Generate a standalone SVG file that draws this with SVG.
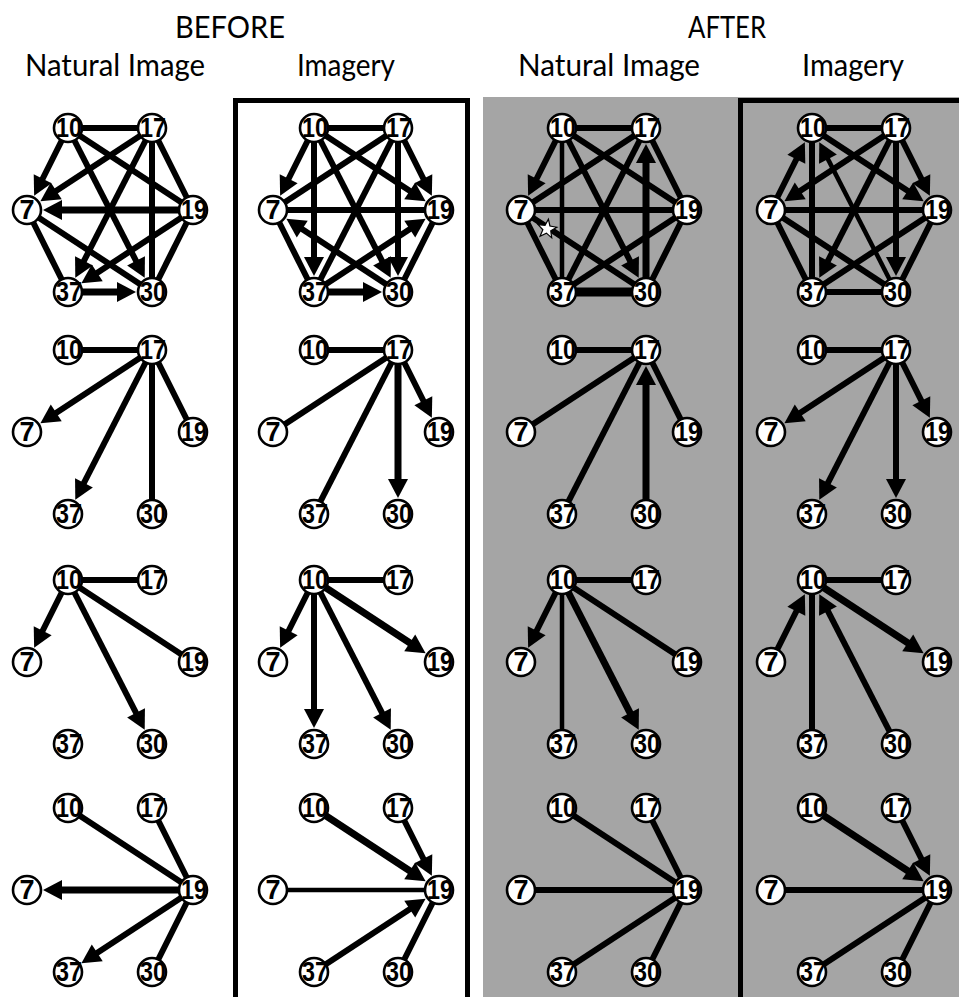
<svg xmlns="http://www.w3.org/2000/svg" width="959" height="997" viewBox="0 0 959 997">
<style>
.hd{font-family:Lato,"Open Sans","Liberation Sans",sans-serif;font-size:31px;fill:#000;text-anchor:middle}
.nc{fill:#fff;stroke:#000;stroke-width:2.6}
.nt{font-family:"Liberation Sans",Arial,sans-serif;font-size:27px;font-weight:bold;fill:#000;text-anchor:middle}
.e{stroke:#000;stroke-width:6;fill:none;stroke-linecap:butt}
.a{stroke:#000;stroke-width:6;fill:none;marker-end:url(#ah)}
.th{stroke-width:9}
.md{stroke-width:7}
.tn{stroke-width:4.5}
</style>
<defs>
<marker id="ah" markerUnits="userSpaceOnUse" markerWidth="19" markerHeight="20" refX="9" refY="10" orient="auto" overflow="visible">
<path d="M0,0 L19,10 L0,20 Z" fill="#000"/>
</marker>
</defs>
<rect x="0" y="0" width="959" height="997" fill="#fff"/>
<g id="frames">
<rect x="483" y="97" width="476" height="900" fill="#a5a5a5"/>
<rect x="235.5" y="100.5" width="232" height="905" fill="none" stroke="#000" stroke-width="5"/>
<path d="M740.5,1000 V100.5 H965" fill="none" stroke="#000" stroke-width="5"/>
</g>
<g id="headers">
<text class="hd" x="230" y="38" textLength="110" lengthAdjust="spacingAndGlyphs">BEFORE</text>
<text class="hd" x="727" y="38" textLength="78" lengthAdjust="spacingAndGlyphs">AFTER</text>
<text class="hd" x="115" y="76" textLength="180" lengthAdjust="spacingAndGlyphs">Natural Image</text>
<text class="hd" x="346" y="76" textLength="98" lengthAdjust="spacingAndGlyphs">Imagery</text>
<text class="hd" x="609" y="76" textLength="182" lengthAdjust="spacingAndGlyphs">Natural Image</text>
<text class="hd" x="853" y="76" textLength="102" lengthAdjust="spacingAndGlyphs">Imagery</text>
</g>

<!-- ROW 1 -->
<g id="p-r1c1" transform="translate(68,128)">
<g id="connectors-r1c1">
<line class="e" x1="0" y1="0" x2="84" y2="0"/>
<line class="e" x1="0" y1="0" x2="125" y2="82"/>
<line class="e" x1="84" y1="0" x2="84" y2="164"/>
<line class="e" x1="84" y1="0" x2="125" y2="82"/>
<line class="e" x1="-41" y1="82" x2="0" y2="164"/>
<line class="e" x1="-41" y1="82" x2="84" y2="164"/>
<line class="e" x1="125" y1="82" x2="84" y2="164"/>
<line class="a" x1="0" y1="0" x2="-29.37" y2="58.75"/>
<line class="a" x1="84" y1="0" x2="-19.26" y2="67.74"/>
<line class="a md" x1="125" y1="82" x2="-15" y2="82"/>
<line class="a" x1="0" y1="0" x2="72.15" y2="140.86"/>
<line class="a" x1="84" y1="0" x2="11.85" y2="140.86"/>
<line class="a" x1="125" y1="82" x2="21.74" y2="149.74"/>
<line class="a md" x1="0" y1="164" x2="58" y2="164"/>
</g>
<g id="r1c1-n10"><circle class="nc" cx="0" cy="0" r="14"/><text class="nt" x="1" y="9" textLength="26" lengthAdjust="spacingAndGlyphs">10</text></g>
<g id="r1c1-n17"><circle class="nc" cx="84" cy="0" r="14"/><text class="nt" x="85" y="9" textLength="26" lengthAdjust="spacingAndGlyphs">17</text></g>
<g id="r1c1-n7"><circle class="nc" cx="-41" cy="82" r="14"/><text class="nt" x="-41" y="91">7</text></g>
<g id="r1c1-n19"><circle class="nc" cx="125" cy="82" r="14"/><text class="nt" x="126" y="91" textLength="26" lengthAdjust="spacingAndGlyphs">19</text></g>
<g id="r1c1-n37"><circle class="nc" cx="0" cy="164" r="14"/><text class="nt" x="1" y="173" textLength="26" lengthAdjust="spacingAndGlyphs">37</text></g>
<g id="r1c1-n30"><circle class="nc" cx="84" cy="164" r="14"/><text class="nt" x="85" y="173" textLength="26" lengthAdjust="spacingAndGlyphs">30</text></g>
</g>

<g id="p-r1c2" transform="translate(314,128)">
<g id="connectors-r1c2">
<line class="e" x1="0" y1="0" x2="84" y2="0"/>
<line class="e" x1="84" y1="0" x2="-41" y2="82"/>
<line class="e" x1="84" y1="0" x2="0" y2="164"/>
<line class="e" x1="-41" y1="82" x2="125" y2="82"/>
<line class="e" x1="125" y1="82" x2="84" y2="164"/>
<line class="e" x1="-41" y1="82" x2="0" y2="164"/>
<line class="a" x1="0" y1="0" x2="-29.37" y2="58.75"/>
<line class="a" x1="0" y1="0" x2="0" y2="138"/>
<line class="a" x1="0" y1="0" x2="72.15" y2="140.86"/>
<line class="a" x1="0" y1="0" x2="103.26" y2="67.74"/>
<line class="a" x1="84" y1="0" x2="84" y2="138"/>
<line class="a" x1="84" y1="0" x2="113.37" y2="58.75"/>
<line class="a" x1="0" y1="164" x2="103.26" y2="96.26"/>
<line class="a" x1="84" y1="164" x2="-19.26" y2="96.26"/>
<line class="a md" x1="0" y1="164" x2="58" y2="164"/>
</g>
<g id="r1c2-n10"><circle class="nc" cx="0" cy="0" r="14"/><text class="nt" x="1" y="9" textLength="26" lengthAdjust="spacingAndGlyphs">10</text></g>
<g id="r1c2-n17"><circle class="nc" cx="84" cy="0" r="14"/><text class="nt" x="85" y="9" textLength="26" lengthAdjust="spacingAndGlyphs">17</text></g>
<g id="r1c2-n7"><circle class="nc" cx="-41" cy="82" r="14"/><text class="nt" x="-41" y="91">7</text></g>
<g id="r1c2-n19"><circle class="nc" cx="125" cy="82" r="14"/><text class="nt" x="126" y="91" textLength="26" lengthAdjust="spacingAndGlyphs">19</text></g>
<g id="r1c2-n37"><circle class="nc" cx="0" cy="164" r="14"/><text class="nt" x="1" y="173" textLength="26" lengthAdjust="spacingAndGlyphs">37</text></g>
<g id="r1c2-n30"><circle class="nc" cx="84" cy="164" r="14"/><text class="nt" x="85" y="173" textLength="26" lengthAdjust="spacingAndGlyphs">30</text></g>
</g>

<g id="p-r1c3" transform="translate(562,128)">
<g id="connectors-r1c3">
<line class="e" x1="0" y1="0" x2="84" y2="0"/>
<line class="e" x1="84" y1="0" x2="-41" y2="82"/>
<line class="e" x1="84" y1="0" x2="0" y2="164"/>
<line class="e" x1="84" y1="0" x2="125" y2="82"/>
<line class="e tn" x1="0" y1="0" x2="0" y2="164"/>
<line class="e" x1="0" y1="0" x2="125" y2="82"/>
<line class="e" x1="-41" y1="82" x2="125" y2="82"/>
<line class="e" x1="0" y1="164" x2="125" y2="82"/>
<line class="e" x1="84" y1="164" x2="125" y2="82"/>
<line class="e" x1="-41" y1="82" x2="0" y2="164"/>
<line class="e" x1="-41" y1="82" x2="84" y2="164"/>
<line class="e th" x1="0" y1="164" x2="84" y2="164"/>
<line class="a md" x1="84" y1="164" x2="84" y2="26"/>
<line class="a" x1="0" y1="0" x2="-29.37" y2="58.75"/>
<line class="a" x1="0" y1="0" x2="72.15" y2="140.86"/>
</g>
<g id="r1c3-star"><polygon transform="translate(-15,101) rotate(8)" points="0,-10 2.47,-3.4 9.51,-3.09 3.99,1.3 5.88,8.09 0,4.2 -5.88,8.09 -3.99,1.3 -9.51,-3.09 -2.47,-3.4" fill="#fff" stroke="#000" stroke-width="1.2"/></g>
<g id="r1c3-n10"><circle class="nc" cx="0" cy="0" r="14"/><text class="nt" x="1" y="9" textLength="26" lengthAdjust="spacingAndGlyphs">10</text></g>
<g id="r1c3-n17"><circle class="nc" cx="84" cy="0" r="14"/><text class="nt" x="85" y="9" textLength="26" lengthAdjust="spacingAndGlyphs">17</text></g>
<g id="r1c3-n7"><circle class="nc" cx="-41" cy="82" r="14"/><text class="nt" x="-41" y="91">7</text></g>
<g id="r1c3-n19"><circle class="nc" cx="125" cy="82" r="14"/><text class="nt" x="126" y="91" textLength="26" lengthAdjust="spacingAndGlyphs">19</text></g>
<g id="r1c3-n37"><circle class="nc" cx="0" cy="164" r="14"/><text class="nt" x="1" y="173" textLength="26" lengthAdjust="spacingAndGlyphs">37</text></g>
<g id="r1c3-n30"><circle class="nc" cx="84" cy="164" r="14"/><text class="nt" x="85" y="173" textLength="26" lengthAdjust="spacingAndGlyphs">30</text></g>
</g>

<g id="p-r1c4" transform="translate(812,128)">
<g id="connectors-r1c4">
<line class="e" x1="0" y1="0" x2="84" y2="0"/>
<line class="e" x1="0" y1="0" x2="0" y2="164"/>
<line class="e" x1="-41" y1="82" x2="125" y2="82"/>
<line class="e" x1="0" y1="164" x2="125" y2="82"/>
<line class="e" x1="84" y1="164" x2="125" y2="82"/>
<line class="e" x1="-41" y1="82" x2="0" y2="164"/>
<line class="e" x1="-41" y1="82" x2="84" y2="164"/>
<line class="e" x1="0" y1="164" x2="84" y2="164"/>
<line class="a" x1="84" y1="0" x2="-19.26" y2="67.74"/>
<line class="a" x1="84" y1="0" x2="11.85" y2="140.86"/>
<line class="a" x1="84" y1="0" x2="84" y2="138"/>
<line class="a" x1="84" y1="0" x2="113.37" y2="58.75"/>
<line class="a" x1="-41" y1="82" x2="-11.63" y2="23.25"/>
<line class="a tn" x1="84" y1="164" x2="11.85" y2="23.14"/>
<line class="a" x1="0" y1="0" x2="103.26" y2="67.74"/>
</g>
<g id="r1c4-n10"><circle class="nc" cx="0" cy="0" r="14"/><text class="nt" x="1" y="9" textLength="26" lengthAdjust="spacingAndGlyphs">10</text></g>
<g id="r1c4-n17"><circle class="nc" cx="84" cy="0" r="14"/><text class="nt" x="85" y="9" textLength="26" lengthAdjust="spacingAndGlyphs">17</text></g>
<g id="r1c4-n7"><circle class="nc" cx="-41" cy="82" r="14"/><text class="nt" x="-41" y="91">7</text></g>
<g id="r1c4-n19"><circle class="nc" cx="125" cy="82" r="14"/><text class="nt" x="126" y="91" textLength="26" lengthAdjust="spacingAndGlyphs">19</text></g>
<g id="r1c4-n37"><circle class="nc" cx="0" cy="164" r="14"/><text class="nt" x="1" y="173" textLength="26" lengthAdjust="spacingAndGlyphs">37</text></g>
<g id="r1c4-n30"><circle class="nc" cx="84" cy="164" r="14"/><text class="nt" x="85" y="173" textLength="26" lengthAdjust="spacingAndGlyphs">30</text></g>
</g>

<!-- ROW 2 -->
<g id="p-r2c1" transform="translate(68,350)">
<g id="connectors-r2c1">
<line class="e" x1="0" y1="0" x2="84" y2="0"/>
<line class="e" x1="84" y1="0" x2="84" y2="164"/>
<line class="e" x1="84" y1="0" x2="125" y2="82"/>
<line class="a" x1="84" y1="0" x2="-19.26" y2="67.74"/>
<line class="a" x1="84" y1="0" x2="11.85" y2="140.86"/>
</g>
<g id="r2c1-n10"><circle class="nc" cx="0" cy="0" r="14"/><text class="nt" x="1" y="9" textLength="26" lengthAdjust="spacingAndGlyphs">10</text></g>
<g id="r2c1-n17"><circle class="nc" cx="84" cy="0" r="14"/><text class="nt" x="85" y="9" textLength="26" lengthAdjust="spacingAndGlyphs">17</text></g>
<g id="r2c1-n7"><circle class="nc" cx="-41" cy="82" r="14"/><text class="nt" x="-41" y="91">7</text></g>
<g id="r2c1-n19"><circle class="nc" cx="125" cy="82" r="14"/><text class="nt" x="126" y="91" textLength="26" lengthAdjust="spacingAndGlyphs">19</text></g>
<g id="r2c1-n37"><circle class="nc" cx="0" cy="164" r="14"/><text class="nt" x="1" y="173" textLength="26" lengthAdjust="spacingAndGlyphs">37</text></g>
<g id="r2c1-n30"><circle class="nc" cx="84" cy="164" r="14"/><text class="nt" x="85" y="173" textLength="26" lengthAdjust="spacingAndGlyphs">30</text></g>
</g>

<g id="p-r2c2" transform="translate(314,350)">
<g id="connectors-r2c2">
<line class="e" x1="0" y1="0" x2="84" y2="0"/>
<line class="e" x1="84" y1="0" x2="-41" y2="82"/>
<line class="e" x1="84" y1="0" x2="0" y2="164"/>
<line class="a md" x1="84" y1="0" x2="84" y2="138"/>
<line class="a" x1="84" y1="0" x2="113.37" y2="58.75"/>
</g>
<g id="r2c2-n10"><circle class="nc" cx="0" cy="0" r="14"/><text class="nt" x="1" y="9" textLength="26" lengthAdjust="spacingAndGlyphs">10</text></g>
<g id="r2c2-n17"><circle class="nc" cx="84" cy="0" r="14"/><text class="nt" x="85" y="9" textLength="26" lengthAdjust="spacingAndGlyphs">17</text></g>
<g id="r2c2-n7"><circle class="nc" cx="-41" cy="82" r="14"/><text class="nt" x="-41" y="91">7</text></g>
<g id="r2c2-n19"><circle class="nc" cx="125" cy="82" r="14"/><text class="nt" x="126" y="91" textLength="26" lengthAdjust="spacingAndGlyphs">19</text></g>
<g id="r2c2-n37"><circle class="nc" cx="0" cy="164" r="14"/><text class="nt" x="1" y="173" textLength="26" lengthAdjust="spacingAndGlyphs">37</text></g>
<g id="r2c2-n30"><circle class="nc" cx="84" cy="164" r="14"/><text class="nt" x="85" y="173" textLength="26" lengthAdjust="spacingAndGlyphs">30</text></g>
</g>

<g id="p-r2c3" transform="translate(562,350)">
<g id="connectors-r2c3">
<line class="e" x1="0" y1="0" x2="84" y2="0"/>
<line class="e" x1="84" y1="0" x2="-41" y2="82"/>
<line class="e" x1="84" y1="0" x2="0" y2="164"/>
<line class="e" x1="84" y1="0" x2="125" y2="82"/>
<line class="a md" x1="84" y1="164" x2="84" y2="26"/>
</g>
<g id="r2c3-n10"><circle class="nc" cx="0" cy="0" r="14"/><text class="nt" x="1" y="9" textLength="26" lengthAdjust="spacingAndGlyphs">10</text></g>
<g id="r2c3-n17"><circle class="nc" cx="84" cy="0" r="14"/><text class="nt" x="85" y="9" textLength="26" lengthAdjust="spacingAndGlyphs">17</text></g>
<g id="r2c3-n7"><circle class="nc" cx="-41" cy="82" r="14"/><text class="nt" x="-41" y="91">7</text></g>
<g id="r2c3-n19"><circle class="nc" cx="125" cy="82" r="14"/><text class="nt" x="126" y="91" textLength="26" lengthAdjust="spacingAndGlyphs">19</text></g>
<g id="r2c3-n37"><circle class="nc" cx="0" cy="164" r="14"/><text class="nt" x="1" y="173" textLength="26" lengthAdjust="spacingAndGlyphs">37</text></g>
<g id="r2c3-n30"><circle class="nc" cx="84" cy="164" r="14"/><text class="nt" x="85" y="173" textLength="26" lengthAdjust="spacingAndGlyphs">30</text></g>
</g>

<g id="p-r2c4" transform="translate(812,350)">
<g id="connectors-r2c4">
<line class="e" x1="0" y1="0" x2="84" y2="0"/>
<line class="a" x1="84" y1="0" x2="-19.26" y2="67.74"/>
<line class="a" x1="84" y1="0" x2="11.85" y2="140.86"/>
<line class="a" x1="84" y1="0" x2="84" y2="138"/>
<line class="a" x1="84" y1="0" x2="113.37" y2="58.75"/>
</g>
<g id="r2c4-n10"><circle class="nc" cx="0" cy="0" r="14"/><text class="nt" x="1" y="9" textLength="26" lengthAdjust="spacingAndGlyphs">10</text></g>
<g id="r2c4-n17"><circle class="nc" cx="84" cy="0" r="14"/><text class="nt" x="85" y="9" textLength="26" lengthAdjust="spacingAndGlyphs">17</text></g>
<g id="r2c4-n7"><circle class="nc" cx="-41" cy="82" r="14"/><text class="nt" x="-41" y="91">7</text></g>
<g id="r2c4-n19"><circle class="nc" cx="125" cy="82" r="14"/><text class="nt" x="126" y="91" textLength="26" lengthAdjust="spacingAndGlyphs">19</text></g>
<g id="r2c4-n37"><circle class="nc" cx="0" cy="164" r="14"/><text class="nt" x="1" y="173" textLength="26" lengthAdjust="spacingAndGlyphs">37</text></g>
<g id="r2c4-n30"><circle class="nc" cx="84" cy="164" r="14"/><text class="nt" x="85" y="173" textLength="26" lengthAdjust="spacingAndGlyphs">30</text></g>
</g>

<!-- ROW 3 -->
<g id="p-r3c1" transform="translate(68,580)">
<g id="connectors-r3c1">
<line class="e" x1="0" y1="0" x2="84" y2="0"/>
<line class="e" x1="0" y1="0" x2="125" y2="82"/>
<line class="a" x1="0" y1="0" x2="-29.37" y2="58.75"/>
<line class="a" x1="0" y1="0" x2="72.15" y2="140.86"/>
</g>
<g id="r3c1-n10"><circle class="nc" cx="0" cy="0" r="14"/><text class="nt" x="1" y="9" textLength="26" lengthAdjust="spacingAndGlyphs">10</text></g>
<g id="r3c1-n17"><circle class="nc" cx="84" cy="0" r="14"/><text class="nt" x="85" y="9" textLength="26" lengthAdjust="spacingAndGlyphs">17</text></g>
<g id="r3c1-n7"><circle class="nc" cx="-41" cy="82" r="14"/><text class="nt" x="-41" y="91">7</text></g>
<g id="r3c1-n19"><circle class="nc" cx="125" cy="82" r="14"/><text class="nt" x="126" y="91" textLength="26" lengthAdjust="spacingAndGlyphs">19</text></g>
<g id="r3c1-n37"><circle class="nc" cx="0" cy="164" r="14"/><text class="nt" x="1" y="173" textLength="26" lengthAdjust="spacingAndGlyphs">37</text></g>
<g id="r3c1-n30"><circle class="nc" cx="84" cy="164" r="14"/><text class="nt" x="85" y="173" textLength="26" lengthAdjust="spacingAndGlyphs">30</text></g>
</g>

<g id="p-r3c2" transform="translate(314,580)">
<g id="connectors-r3c2">
<line class="e" x1="0" y1="0" x2="84" y2="0"/>
<line class="a" x1="0" y1="0" x2="-29.37" y2="58.75"/>
<line class="a" x1="0" y1="0" x2="0" y2="138"/>
<line class="a" x1="0" y1="0" x2="72.15" y2="140.86"/>
<line class="a md" x1="0" y1="0" x2="103.26" y2="67.74"/>
</g>
<g id="r3c2-n10"><circle class="nc" cx="0" cy="0" r="14"/><text class="nt" x="1" y="9" textLength="26" lengthAdjust="spacingAndGlyphs">10</text></g>
<g id="r3c2-n17"><circle class="nc" cx="84" cy="0" r="14"/><text class="nt" x="85" y="9" textLength="26" lengthAdjust="spacingAndGlyphs">17</text></g>
<g id="r3c2-n7"><circle class="nc" cx="-41" cy="82" r="14"/><text class="nt" x="-41" y="91">7</text></g>
<g id="r3c2-n19"><circle class="nc" cx="125" cy="82" r="14"/><text class="nt" x="126" y="91" textLength="26" lengthAdjust="spacingAndGlyphs">19</text></g>
<g id="r3c2-n37"><circle class="nc" cx="0" cy="164" r="14"/><text class="nt" x="1" y="173" textLength="26" lengthAdjust="spacingAndGlyphs">37</text></g>
<g id="r3c2-n30"><circle class="nc" cx="84" cy="164" r="14"/><text class="nt" x="85" y="173" textLength="26" lengthAdjust="spacingAndGlyphs">30</text></g>
</g>

<g id="p-r3c3" transform="translate(562,580)">
<g id="connectors-r3c3">
<line class="e" x1="0" y1="0" x2="84" y2="0"/>
<line class="e tn" x1="0" y1="0" x2="0" y2="164"/>
<line class="e" x1="0" y1="0" x2="125" y2="82"/>
<line class="a" x1="0" y1="0" x2="-29.37" y2="58.75"/>
<line class="a md" x1="0" y1="0" x2="72.15" y2="140.86"/>
</g>
<g id="r3c3-n10"><circle class="nc" cx="0" cy="0" r="14"/><text class="nt" x="1" y="9" textLength="26" lengthAdjust="spacingAndGlyphs">10</text></g>
<g id="r3c3-n17"><circle class="nc" cx="84" cy="0" r="14"/><text class="nt" x="85" y="9" textLength="26" lengthAdjust="spacingAndGlyphs">17</text></g>
<g id="r3c3-n7"><circle class="nc" cx="-41" cy="82" r="14"/><text class="nt" x="-41" y="91">7</text></g>
<g id="r3c3-n19"><circle class="nc" cx="125" cy="82" r="14"/><text class="nt" x="126" y="91" textLength="26" lengthAdjust="spacingAndGlyphs">19</text></g>
<g id="r3c3-n37"><circle class="nc" cx="0" cy="164" r="14"/><text class="nt" x="1" y="173" textLength="26" lengthAdjust="spacingAndGlyphs">37</text></g>
<g id="r3c3-n30"><circle class="nc" cx="84" cy="164" r="14"/><text class="nt" x="85" y="173" textLength="26" lengthAdjust="spacingAndGlyphs">30</text></g>
</g>

<g id="p-r3c4" transform="translate(812,580)">
<g id="connectors-r3c4">
<line class="e" x1="0" y1="0" x2="84" y2="0"/>
<line class="e" x1="0" y1="0" x2="0" y2="164"/>
<line class="a" x1="-41" y1="82" x2="-11.63" y2="23.25"/>
<line class="a" x1="84" y1="164" x2="11.85" y2="23.14"/>
<line class="a md" x1="0" y1="0" x2="103.26" y2="67.74"/>
</g>
<g id="r3c4-n10"><circle class="nc" cx="0" cy="0" r="14"/><text class="nt" x="1" y="9" textLength="26" lengthAdjust="spacingAndGlyphs">10</text></g>
<g id="r3c4-n17"><circle class="nc" cx="84" cy="0" r="14"/><text class="nt" x="85" y="9" textLength="26" lengthAdjust="spacingAndGlyphs">17</text></g>
<g id="r3c4-n7"><circle class="nc" cx="-41" cy="82" r="14"/><text class="nt" x="-41" y="91">7</text></g>
<g id="r3c4-n19"><circle class="nc" cx="125" cy="82" r="14"/><text class="nt" x="126" y="91" textLength="26" lengthAdjust="spacingAndGlyphs">19</text></g>
<g id="r3c4-n37"><circle class="nc" cx="0" cy="164" r="14"/><text class="nt" x="1" y="173" textLength="26" lengthAdjust="spacingAndGlyphs">37</text></g>
<g id="r3c4-n30"><circle class="nc" cx="84" cy="164" r="14"/><text class="nt" x="85" y="173" textLength="26" lengthAdjust="spacingAndGlyphs">30</text></g>
</g>

<!-- ROW 4 -->
<g id="p-r4c1" transform="translate(68,808)">
<g id="connectors-r4c1">
<line class="e" x1="0" y1="0" x2="125" y2="82"/>
<line class="e" x1="84" y1="0" x2="125" y2="82"/>
<line class="e" x1="84" y1="164" x2="125" y2="82"/>
<line class="a md" x1="125" y1="82" x2="-15" y2="82"/>
<line class="a" x1="125" y1="82" x2="21.74" y2="149.74"/>
</g>
<g id="r4c1-n10"><circle class="nc" cx="0" cy="0" r="14"/><text class="nt" x="1" y="9" textLength="26" lengthAdjust="spacingAndGlyphs">10</text></g>
<g id="r4c1-n17"><circle class="nc" cx="84" cy="0" r="14"/><text class="nt" x="85" y="9" textLength="26" lengthAdjust="spacingAndGlyphs">17</text></g>
<g id="r4c1-n7"><circle class="nc" cx="-41" cy="82" r="14"/><text class="nt" x="-41" y="91">7</text></g>
<g id="r4c1-n19"><circle class="nc" cx="125" cy="82" r="14"/><text class="nt" x="126" y="91" textLength="26" lengthAdjust="spacingAndGlyphs">19</text></g>
<g id="r4c1-n37"><circle class="nc" cx="0" cy="164" r="14"/><text class="nt" x="1" y="173" textLength="26" lengthAdjust="spacingAndGlyphs">37</text></g>
<g id="r4c1-n30"><circle class="nc" cx="84" cy="164" r="14"/><text class="nt" x="85" y="173" textLength="26" lengthAdjust="spacingAndGlyphs">30</text></g>
</g>

<g id="p-r4c2" transform="translate(314,808)">
<g id="connectors-r4c2">
<line class="e tn" x1="-41" y1="82" x2="125" y2="82"/>
<line class="e" x1="84" y1="164" x2="125" y2="82"/>
<line class="a md" x1="0" y1="0" x2="103.26" y2="67.74"/>
<line class="a" x1="84" y1="0" x2="113.37" y2="58.75"/>
<line class="a" x1="0" y1="164" x2="103.26" y2="96.26"/>
</g>
<g id="r4c2-n10"><circle class="nc" cx="0" cy="0" r="14"/><text class="nt" x="1" y="9" textLength="26" lengthAdjust="spacingAndGlyphs">10</text></g>
<g id="r4c2-n17"><circle class="nc" cx="84" cy="0" r="14"/><text class="nt" x="85" y="9" textLength="26" lengthAdjust="spacingAndGlyphs">17</text></g>
<g id="r4c2-n7"><circle class="nc" cx="-41" cy="82" r="14"/><text class="nt" x="-41" y="91">7</text></g>
<g id="r4c2-n19"><circle class="nc" cx="125" cy="82" r="14"/><text class="nt" x="126" y="91" textLength="26" lengthAdjust="spacingAndGlyphs">19</text></g>
<g id="r4c2-n37"><circle class="nc" cx="0" cy="164" r="14"/><text class="nt" x="1" y="173" textLength="26" lengthAdjust="spacingAndGlyphs">37</text></g>
<g id="r4c2-n30"><circle class="nc" cx="84" cy="164" r="14"/><text class="nt" x="85" y="173" textLength="26" lengthAdjust="spacingAndGlyphs">30</text></g>
</g>

<g id="p-r4c3" transform="translate(562,808)">
<g id="connectors-r4c3">
<line class="e" x1="0" y1="0" x2="125" y2="82"/>
<line class="e" x1="84" y1="0" x2="125" y2="82"/>
<line class="e" x1="-41" y1="82" x2="125" y2="82"/>
<line class="e" x1="0" y1="164" x2="125" y2="82"/>
<line class="e" x1="84" y1="164" x2="125" y2="82"/>
</g>
<g id="r4c3-n10"><circle class="nc" cx="0" cy="0" r="14"/><text class="nt" x="1" y="9" textLength="26" lengthAdjust="spacingAndGlyphs">10</text></g>
<g id="r4c3-n17"><circle class="nc" cx="84" cy="0" r="14"/><text class="nt" x="85" y="9" textLength="26" lengthAdjust="spacingAndGlyphs">17</text></g>
<g id="r4c3-n7"><circle class="nc" cx="-41" cy="82" r="14"/><text class="nt" x="-41" y="91">7</text></g>
<g id="r4c3-n19"><circle class="nc" cx="125" cy="82" r="14"/><text class="nt" x="126" y="91" textLength="26" lengthAdjust="spacingAndGlyphs">19</text></g>
<g id="r4c3-n37"><circle class="nc" cx="0" cy="164" r="14"/><text class="nt" x="1" y="173" textLength="26" lengthAdjust="spacingAndGlyphs">37</text></g>
<g id="r4c3-n30"><circle class="nc" cx="84" cy="164" r="14"/><text class="nt" x="85" y="173" textLength="26" lengthAdjust="spacingAndGlyphs">30</text></g>
</g>

<g id="p-r4c4" transform="translate(812,808)">
<g id="connectors-r4c4">
<line class="e" x1="-41" y1="82" x2="125" y2="82"/>
<line class="e" x1="0" y1="164" x2="125" y2="82"/>
<line class="e" x1="84" y1="164" x2="125" y2="82"/>
<line class="a md" x1="0" y1="0" x2="103.26" y2="67.74"/>
<line class="a" x1="84" y1="0" x2="113.37" y2="58.75"/>
</g>
<g id="r4c4-n10"><circle class="nc" cx="0" cy="0" r="14"/><text class="nt" x="1" y="9" textLength="26" lengthAdjust="spacingAndGlyphs">10</text></g>
<g id="r4c4-n17"><circle class="nc" cx="84" cy="0" r="14"/><text class="nt" x="85" y="9" textLength="26" lengthAdjust="spacingAndGlyphs">17</text></g>
<g id="r4c4-n7"><circle class="nc" cx="-41" cy="82" r="14"/><text class="nt" x="-41" y="91">7</text></g>
<g id="r4c4-n19"><circle class="nc" cx="125" cy="82" r="14"/><text class="nt" x="126" y="91" textLength="26" lengthAdjust="spacingAndGlyphs">19</text></g>
<g id="r4c4-n37"><circle class="nc" cx="0" cy="164" r="14"/><text class="nt" x="1" y="173" textLength="26" lengthAdjust="spacingAndGlyphs">37</text></g>
<g id="r4c4-n30"><circle class="nc" cx="84" cy="164" r="14"/><text class="nt" x="85" y="173" textLength="26" lengthAdjust="spacingAndGlyphs">30</text></g>
</g>
</svg>
